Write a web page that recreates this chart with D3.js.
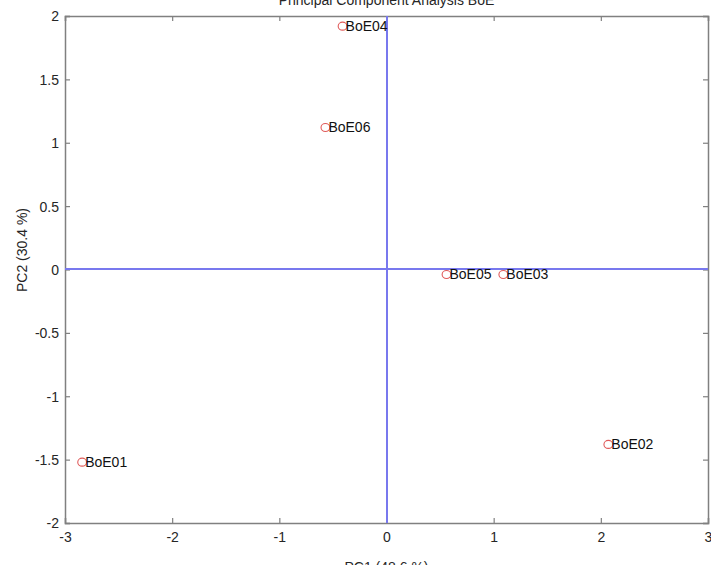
<!DOCTYPE html>
<html>
<head>
<meta charset="utf-8">
<script src="https://cdn.jsdelivr.net/npm/d3@7"></script>
<style>
  html, body { margin: 0; padding: 0; background: #fff; }
  svg { display: block; font-family: "Liberation Sans", Arial, Helvetica, sans-serif; }
</style>
</head>
<body>
<svg id="chart" width="711" height="565"></svg>
<script>
// ---- data ----
const labels = ["BoE01", "BoE02", "BoE03", "BoE04", "BoE05", "BoE06"];
const pc1 = [-2.84, 2.07, 1.09, -0.41, 0.56, -0.57];
const pc2 = [-1.52, -1.38, -0.04, 1.92, -0.04, 1.12];
const xTicks = [-3, -2, -1, 0, 1, 2, 3];
const yTicks = [-2, -1.5, -1, -0.5, 0, 0.5, 1, 1.5, 2];
const titleText = "Principal Component Analysis BoE";
const xLabel = "PC1  (48.6 %)";
const yLabel = "PC2  (30.4 %)";

// ---- layout ----
const L = 65, R = 708, T = 16, B = 523;
const svg = d3.select("#chart");
const x = d3.scaleLinear().domain([-3, 3]).range([L, R]);
const y = d3.scaleLinear().domain([-2, 2]).range([B, T]);
const axisColor = "#808080";
const textColor = "#262626";
const tickLen = 5;
const fmt = d => String(d);

// axes (ticks inward, box)
const gB = svg.append("g").attr("transform", `translate(0,${B})`)
  .call(d3.axisBottom(x).tickValues(xTicks).tickSize(-tickLen).tickPadding(10).tickFormat(fmt));
const gT = svg.append("g").attr("transform", `translate(0,${T})`)
  .call(d3.axisTop(x).tickValues(xTicks).tickSize(-tickLen).tickFormat(""));
const gL = svg.append("g").attr("transform", `translate(${L},0)`)
  .call(d3.axisLeft(y).tickValues(yTicks).tickSize(-tickLen).tickPadding(6).tickFormat(fmt));
const gR = svg.append("g").attr("transform", `translate(${R},0)`)
  .call(d3.axisRight(y).tickValues(yTicks).tickSize(-tickLen).tickFormat(""));

[gB, gT, gL, gR].forEach(g => {
  g.select(".domain").attr("stroke", axisColor).attr("stroke-width", 1.5);
  g.selectAll(".tick line").attr("stroke", axisColor).attr("stroke-width", 1.2);
  g.selectAll(".tick text").attr("fill", textColor).attr("font-size", 14)
    .attr("font-family", "Liberation Sans, Arial, sans-serif");
});
gB.selectAll(".tick text").attr("dy", "0.71em").attr("y", 9);
gL.selectAll(".tick text").attr("dy", "0.35em");

// zero lines (2px, aligned so the blue survives image compression)
const x0 = 2 * Math.floor(x(0) / 2) + 1;
const y0 = 2 * Math.floor(y(0) / 2) + 1;
svg.append("line").attr("x1", x0).attr("x2", x0).attr("y1", T).attr("y2", B)
  .attr("stroke", "#7878ee").attr("stroke-width", 2);
svg.append("line").attr("x1", L).attr("x2", R).attr("y1", y0).attr("y2", y0)
  .attr("stroke", "#7878ee").attr("stroke-width", 2);

// points
const data = labels.map((l, i) => ({ label: l, x: pc1[i], y: pc2[i] }));
svg.selectAll("ellipse.pt").data(data).enter().append("ellipse")
  .attr("class", "pt")
  .attr("cx", d => x(d.x)).attr("cy", d => y(d.y))
  .attr("rx", 4.4).attr("ry", 4)
  .attr("fill", "none").attr("stroke", "#e05a5a").attr("stroke-width", 1.1);
svg.selectAll("text.lbl").data(data).enter().append("text")
  .attr("class", "lbl")
  .attr("x", d => x(d.x) + 3).attr("y", d => y(d.y))
  .attr("dy", "0.35em")
  .attr("font-size", 14).attr("fill", "#111")
  .text(d => d.label);

// title (mostly cut off at top, as in the reference)
svg.append("text").attr("x", (L + R) / 2).attr("y", 5)
  .attr("text-anchor", "middle").attr("font-size", 14).attr("fill", textColor)
  .text(titleText);

// axis labels
svg.append("text").attr("x", (L + R) / 2).attr("y", 572)
  .attr("text-anchor", "middle").attr("font-size", 14).attr("fill", textColor)
  .text(xLabel);
svg.append("text").attr("transform", `translate(27,250) rotate(-90)`)
  .attr("text-anchor", "middle").attr("font-size", 14).attr("fill", textColor)
  .text(yLabel);
</script>
</body>
</html>
